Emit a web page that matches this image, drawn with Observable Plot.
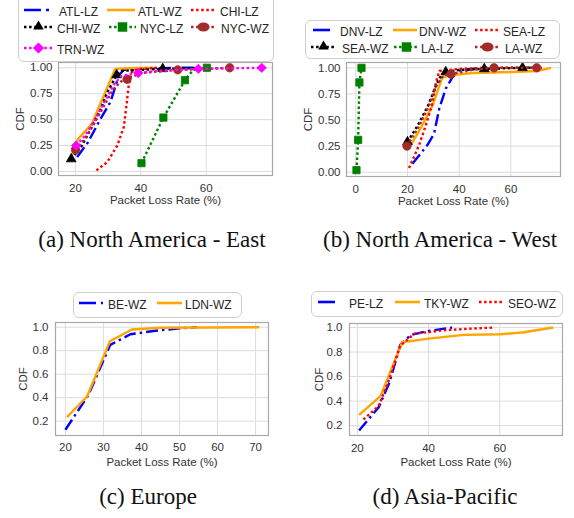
<!DOCTYPE html>
<html><head><meta charset="utf-8">
<script src="https://cdn.jsdelivr.net/npm/d3@7"></script>
<script src="https://cdn.jsdelivr.net/npm/@observablehq/plot@0.6"></script>
<style>
body{margin:0;background:#fff;}
#root{position:relative;width:574px;height:518px;overflow:hidden;font-family:"Liberation Sans",Arial,sans-serif;background:#fff;}
.pl{position:absolute;}
.lg{position:absolute;border:1px solid #cfcfcf;border-radius:6px;background:rgba(255,255,255,0.9);box-sizing:border-box;}
.it{position:absolute;font-size:12px;color:#262626;white-space:nowrap;line-height:14px;transform:translateY(-50%);}
.hd{position:absolute;transform:translateY(-50%);}
.cap{position:absolute;font-family:"Liberation Serif","Times New Roman",serif;font-size:23px;color:#111;white-space:nowrap;transform:translate(-50%,-50%);}
</style></head>
<body><div id="root"></div>
<script>
// ---------- Data ----------
// (a) North America - East
const atlLZ_x = [20.5, 23.8, 27.7, 30.7, 33.3, 34.8, 40, 50, 59];
const atlLZ_y = [0.14, 0.28, 0.51, 0.67, 0.93, 0.98, 0.99, 1.0, 1.0];
const atlWZ_x = [18.4, 20.7, 25, 32.2, 36, 44];
const atlWZ_y = [0.12, 0.31, 0.46, 0.99, 0.995, 1.0];
const chiLZ_x = [26.4, 29.7, 32.8, 34.8, 35.6, 36.3, 37.3, 40, 45];
const chiLZ_y = [0.01, 0.09, 0.25, 0.43, 0.64, 0.83, 0.97, 0.99, 1.0];
const chiWZ_x = [18.7, 22, 25, 27.7, 29.7, 32.6, 34, 40, 46.7, 60];
const chiWZ_y = [0.12, 0.25, 0.43, 0.6, 0.76, 0.93, 0.97, 0.98, 0.99, 1.0];
const chiWZ_m = [0, 5, 8];
const nycLZ_x = [40.2, 46.9, 53.5, 56, 60.2];
const nycLZ_y = [0.08, 0.52, 0.88, 0.98, 1.0];
const nycLZ_m = [0, 1, 2, 4];
const nycWZ_x = [20, 22.5, 25.5, 28.5, 31.5, 34, 35.8, 40, 51.3, 67.2];
const nycWZ_y = [0.21, 0.3, 0.45, 0.62, 0.79, 0.87, 0.89, 0.95, 0.98, 1.0];
const nycWZ_m = [0, 6, 8, 9];
const trnWZ_x = [20.2, 23, 26, 29, 32, 34, 39.2, 45, 57.6, 77];
const trnWZ_y = [0.25, 0.35, 0.5, 0.68, 0.85, 0.92, 0.95, 0.97, 0.99, 1.0];
const trnWZ_m = [0, 6, 8, 9];
// (b) North America - West
const dnvLZ_x = [21.9, 27.7, 30.3, 32.3, 34.8, 37.4, 40, 48];
const dnvLZ_y = [0.08, 0.26, 0.37, 0.61, 0.80, 0.91, 0.97, 1.0];
const dnvWZ_x = [21.5, 25.5, 29.7, 33.5, 37.4, 45, 60, 70, 75.5];
const dnvWZ_y = [0.27, 0.44, 0.64, 0.91, 0.93, 0.95, 0.96, 0.97, 1.0];
const seaLZ_x = [20.6, 24.5, 27.1, 29.5, 31, 32.3, 40, 50, 72];
const seaLZ_y = [0.04, 0.26, 0.45, 0.65, 0.86, 0.97, 0.99, 1.0, 1.0];
const seaWZ_x = [20, 24, 28, 31, 33, 34.8, 40, 49.7, 64.5, 70];
const seaWZ_y = [0.29, 0.45, 0.64, 0.83, 0.93, 0.96, 0.98, 0.99, 1.0, 1.0];
const seaWZ_m = [0, 5, 7, 8];
const laLZ_x = [0.26, 0.9, 1.4, 2.2];
const laLZ_y = [0.02, 0.31, 0.86, 1.0];
const laLZ_m = [0, 1, 2, 3];
const laWZ_x = [19.8, 24, 28, 31, 34, 36.8, 45, 53.5, 70];
const laWZ_y = [0.25, 0.42, 0.62, 0.82, 0.93, 0.94, 0.98, 1.0, 1.0];
const laWZ_m = [0, 5, 7, 8];
// (c) Europe
const beWZ_x = [20, 26, 31.8, 37.1, 43.7, 50, 54.6];
const beWZ_y = [0.127, 0.42, 0.85, 0.94, 0.97, 0.99, 1.0];
const ldnWZ_x = [20.4, 25.7, 31.7, 37.5, 45, 71];
const ldnWZ_y = [0.235, 0.41, 0.88, 0.98, 0.995, 1.0];
// (d) Asia-Pacific
const peLZ_x = [20.5, 26, 29, 32.1, 35, 39.6, 46.6];
const peLZ_y = [0.16, 0.35, 0.55, 0.86, 0.94, 0.97, 1.0];
const tkyWZ_x = [20.5, 26.5, 32.6, 40, 49.9, 60, 66.3, 75];
const tkyWZ_y = [0.287, 0.44, 0.88, 0.91, 0.94, 0.945, 0.96, 1.0];
const seoWZ_x = [21.7, 26, 29, 32, 36, 42, 45, 58];
const seoWZ_y = [0.25, 0.36, 0.58, 0.85, 0.95, 0.97, 0.98, 1.0];

const ticksA_x = [20, 40, 60];
const ticksB_x = [0, 20, 40, 60];
const ticksC_x = [20, 30, 40, 50, 60, 70];
const ticksD_x = [20, 40, 60];
const ticksAB_y = [0, 0.25, 0.5, 0.75, 1.0];
const ticksCD_y = [0.2, 0.4, 0.6, 0.8, 1.0];

const xTitle = "Packet Loss Rate (%)";
const yTitle = "CDF";

// ---------- Styles ----------
const C = {blue:"#0000ff", orange:"#ffa500", red:"#ff0000", black:"#000000", green:"#008000", brown:"#a52a2a", magenta:"#ff00ff"};
const DASH = {solid:null, dashdot:"12,4,2.5,4", dot:"2.5,2.6"};

function S(name, xs, ys, color, style, symbol, marks) {
  return {name, pts: xs.map((x, i) => ({x, y: ys[i]})), color, style, symbol, marks: marks || []};
}

const seriesA = [
  S("ATL-LZ", atlLZ_x, atlLZ_y, C.blue, "dashdot"),
  S("ATL-WZ", atlWZ_x, atlWZ_y, C.orange, "solid"),
  S("CHI-LZ", chiLZ_x, chiLZ_y, C.red, "dot"),
  S("CHI-WZ", chiWZ_x, chiWZ_y, C.black, "dot", "triangle", chiWZ_m),
  S("NYC-LZ", nycLZ_x, nycLZ_y, C.green, "dot", "square", nycLZ_m),
  S("NYC-WZ", nycWZ_x, nycWZ_y, C.brown, "dot", "circle", nycWZ_m),
  S("TRN-WZ", trnWZ_x, trnWZ_y, C.magenta, "dot", "diamond2", trnWZ_m)
];
const seriesB = [
  S("DNV-LZ", dnvLZ_x, dnvLZ_y, C.blue, "dashdot"),
  S("DNV-WZ", dnvWZ_x, dnvWZ_y, C.orange, "solid"),
  S("SEA-LZ", seaLZ_x, seaLZ_y, C.red, "dot"),
  S("SEA-WZ", seaWZ_x, seaWZ_y, C.black, "dot", "triangle", seaWZ_m),
  S("LA-LZ", laLZ_x, laLZ_y, C.green, "dot", "square", laLZ_m),
  S("LA-WZ", laWZ_x, laWZ_y, C.brown, "dot", "circle", laWZ_m)
];
const seriesC = [
  S("BE-WZ", beWZ_x, beWZ_y, C.blue, "dashdot"),
  S("LDN-WZ", ldnWZ_x, ldnWZ_y, C.orange, "solid")
];
const seriesD = [
  S("PE-LZ", peLZ_x, peLZ_y, C.blue, "dashdot"),
  S("TKY-WZ", tkyWZ_x, tkyWZ_y, C.orange, "solid"),
  S("SEO-WZ", seoWZ_x, seoWZ_y, C.red, "dot")
];

const SYMR = {triangle:3.6, square:4.1, circle:4.2, diamond2:4.2};

const root = document.getElementById("root");

function panel(cfg) {
  const marks = [
    Plot.gridX(cfg.xTicks, {stroke:"#dcdcdc", strokeOpacity:1, strokeWidth:1}),
    Plot.gridY(cfg.yTicks, {stroke:"#dcdcdc", strokeOpacity:1, strokeWidth:1}),
    Plot.axisX(cfg.xTicks, {tickSize:0, tickPadding:cfg.xPad, label:null, fill:"#333"}),
    Plot.axisY(cfg.yTicks, {tickSize:0, tickPadding:cfg.yPad, label:null, tickFormat:d3.format(cfg.yFmt), fill:"#333"}),
  ];
  for (const s of cfg.series) {
    marks.push(Plot.line(s.pts, {x:"x", y:"y", stroke:s.color, strokeWidth:2.4,
      strokeDasharray:DASH[s.style], strokeLinecap:"butt", strokeLinejoin:"round"}));
    if (s.symbol) {
      marks.push(Plot.dot(s.marks.map(i => s.pts[i]), {x:"x", y:"y", symbol:s.symbol, r:SYMR[s.symbol],
        fill:s.color, stroke:s.color, strokeWidth:0.8}));
    }
  }
  marks.push(Plot.frame({stroke:"#a8a8a8", strokeWidth:1.2}));
  marks.push(Plot.text([xTitle], {frameAnchor:"bottom", dy:cfg.xLabDy, lineAnchor:"middle", fill:"#333", fontSize:11.5}));
  marks.push(Plot.text([yTitle], {frameAnchor:"left", dx:cfg.yLabDx, rotate:-90, lineAnchor:"middle", textAnchor:"middle", fill:"#333", fontSize:11.5}));
  const svg = Plot.plot({
    width:cfg.w, height:cfg.h,
    marginLeft:cfg.m[0], marginRight:cfg.m[1], marginTop:cfg.m[2], marginBottom:cfg.m[3],
    x:{domain:cfg.xDomain}, y:{domain:cfg.yDomain},
    style:{fontFamily:'"Liberation Sans", Arial, sans-serif', fontSize:"11.5px", color:"#333", background:"transparent", overflow:"visible"},
    marks
  });
  const d = document.createElement("div");
  d.className = "pl";
  d.style.left = cfg.left + "px";
  d.style.top = cfg.top + "px";
  d.appendChild(svg);
  root.appendChild(d);
}

panel({series:seriesA, left:0, top:55, w:287, h:170, m:[58,15,7,50],
  xDomain:[14.8, 80.3], yDomain:[-0.039, 1.051], xTicks:ticksA_x, yTicks:ticksAB_y, yFmt:".2f",
  xPad:8, yPad:6, xLabDy:25, yLabDx:-38});
panel({series:seriesB, left:287, top:55, w:287, h:170, m:[59,14,7,49],
  xDomain:[-3.6, 79.2], yDomain:[-0.041, 1.051], xTicks:ticksB_x, yTicks:ticksAB_y, yFmt:".2f",
  xPad:8, yPad:6, xLabDy:25, yLabDx:-38});
panel({series:seriesC, left:0, top:280, w:287, h:200, m:[55,19,42,45],
  xDomain:[17.4, 73.4], yDomain:[0.078, 1.04], xTicks:ticksC_x, yTicks:ticksCD_y, yFmt:".1f",
  xPad:7, yPad:7, xLabDy:27, yLabDx:-32});
panel({series:seriesD, left:287, top:280, w:287, h:200, m:[62,12,43,45],
  xDomain:[17.8, 77.6], yDomain:[0.119, 1.033], xTicks:ticksD_x, yTicks:ticksCD_y, yFmt:".1f",
  xPad:8, yPad:7, xLabDy:27, yLabDx:-30});

// ---------- Legends (HTML) ----------
function handleSVG(s, len) {
  const ns = "http://www.w3.org/2000/svg";
  const svg = document.createElementNS(ns, "svg");
  svg.setAttribute("width", len); svg.setAttribute("height", 14);
  svg.style.overflow = "visible";
  const ln = document.createElementNS(ns, "line");
  ln.setAttribute("x1", 0); ln.setAttribute("x2", len); ln.setAttribute("y1", 7); ln.setAttribute("y2", 7);
  ln.setAttribute("stroke", s.color); ln.setAttribute("stroke-width", 2.6);
  if (DASH[s.style]) ln.setAttribute("stroke-dasharray", s.style === "dashdot" ? "17,5,3,5" : DASH[s.style]);
  svg.appendChild(ln);
  if (s.symbol) {
    const sym = {triangle:d3.symbolTriangle, square:d3.symbolSquare, circle:d3.symbolCircle, diamond2:d3.symbolDiamond2}[s.symbol];
    const size = {triangle:48, square:90, circle:80, diamond2:80}[s.symbol];
    const p = document.createElementNS(ns, "path");
    p.setAttribute("d", d3.symbol(sym, size)());
    p.setAttribute("transform", `translate(${len/2},7)` + (s.symbol === "circle" ? " scale(1.2,0.9)" : "") + (s.symbol === "triangle" ? " translate(0,-0.5)" : ""));
    p.setAttribute("fill", s.color);
    svg.appendChild(p);
  }
  return svg;
}

function legend(box, series, pos) {
  const b = document.createElement("div");
  b.className = "lg";
  Object.assign(b.style, {left:box[0]+"px", top:box[1]+"px", width:(box[2]-box[0])+"px", height:(box[3]-box[1])+"px"});
  root.appendChild(b);
  series.forEach((s, i) => {
    const [hx, hl, tx, y] = pos[i];
    const h = document.createElement("div");
    h.className = "hd";
    h.style.left = hx + "px"; h.style.top = y + "px";
    h.appendChild(handleSVG(s, hl));
    root.appendChild(h);
    const t = document.createElement("div");
    t.className = "it";
    t.style.left = tx + "px"; t.style.top = y + "px";
    t.textContent = s.name;
    root.appendChild(t);
  });
}

legend([18, -8, 274, 62], seriesA, [
  [24, 29, 59, 12], [107, 28, 138, 12], [191, 25, 220, 12],
  [24, 29, 57, 29], [109, 27, 140, 29], [191, 25, 221, 29],
  [24, 29, 57, 50]
]);
legend([305, 20, 560, 59], seriesB, [
  [313, 21, 340, 32], [393, 24, 419, 32], [475, 25, 503, 32],
  [311, 25, 342, 49], [394, 25, 421, 49], [475, 25, 505, 49]
]);
legend([73, 292, 242, 318], seriesC, [
  [79, 24, 108, 305], [157, 25, 185, 305]
]);
legend([311, 291, 563, 317], seriesD, [
  [318, 22, 349, 304], [395, 25, 424, 304], [479, 25, 508, 304]
]);

// ---------- Captions ----------
const captions = [
  ["(a) North America - East", 152, 240],
  ["(b) North America - West", 440, 240],
  ["(c) Europe", 148, 497],
  ["(d) Asia-Pacific", 445, 497]
];
for (const [txt, x, y] of captions) {
  const c = document.createElement("div");
  c.className = "cap";
  c.style.left = x + "px"; c.style.top = y + "px";
  c.textContent = txt;
  root.appendChild(c);
}
</script>
</body></html>
